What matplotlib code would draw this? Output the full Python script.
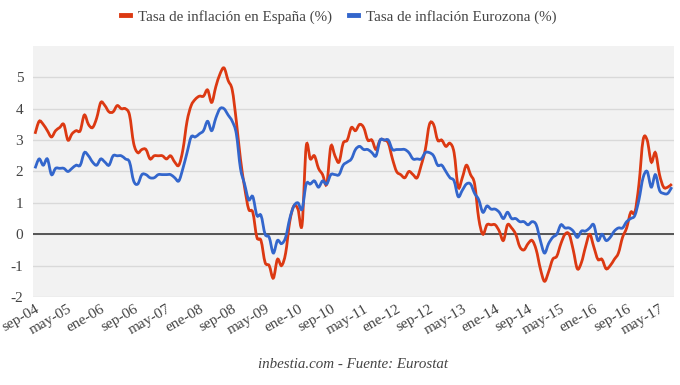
import matplotlib
matplotlib.use("Agg")
import matplotlib.pyplot as plt
import matplotlib.transforms as mtransforms
from matplotlib.path import Path
from matplotlib.patches import PathPatch
from matplotlib.lines import Line2D
import numpy as np

plt.rcParams['font.family'] = ['Liberation Serif', 'DejaVu Serif']
plt.rcParams['axes.unicode_minus'] = False

# etiquetas del eje x (una cada 8 meses, desde sep-04)
tick_labels = ["sep-04", "may-05", "ene-06", "sep-06", "may-07", "ene-08", "sep-08",
               "may-09", "ene-10", "sep-10", "may-11", "ene-12", "sep-12", "may-13",
               "ene-14", "sep-14", "may-15", "ene-16", "sep-16", "may-17"]

# tasa de inflacion mensual, sep-04 .. ago-17
espana = [3.2, 3.6, 3.5, 3.3,
          3.1, 3.3, 3.4, 3.5, 3.0, 3.2, 3.3, 3.3, 3.8, 3.5, 3.4, 3.7,
          4.2, 4.1, 3.9, 3.9, 4.1, 4.0, 4.0, 3.8, 2.9, 2.6, 2.7, 2.7,
          2.4, 2.5, 2.5, 2.5, 2.4, 2.5, 2.3, 2.2, 2.7, 3.6, 4.1, 4.3,
          4.4, 4.4, 4.6, 4.2, 4.7, 5.1, 5.3, 4.9, 4.6, 3.6, 2.4, 1.5,
          0.8, 0.7, -0.1, -0.2, -0.9, -1.0, -1.4, -0.8, -1.0, -0.6, 0.4, 0.9,
          0.8, 0.3, 2.8, 2.4, 2.5, 2.1, 1.9, 1.6, 2.8, 2.5, 2.3, 2.9,
          3.0, 3.4, 3.3, 3.5, 3.4, 3.0, 3.0, 2.7, 3.0, 3.0, 2.9, 2.4,
          2.0, 1.9, 1.8, 2.0, 1.9, 1.8, 2.2, 2.7, 3.5, 3.5, 3.0, 3.0,
          2.8, 2.9, 2.6, 1.5, 1.8, 2.2, 1.9, 1.6, 0.5, 0.0, 0.3, 0.3,
          0.3, 0.1, -0.2, 0.3, 0.2, 0.0, -0.4, -0.5, -0.3, -0.2, -0.5, -1.1,
          -1.5, -1.2, -0.8, -0.7, -0.3, 0.0, 0.0, -0.5, -1.1, -0.9, -0.4, 0.0,
          -0.4, -0.8, -0.8, -1.1, -1.0, -0.8, -0.6, -0.1, 0.2, 0.7, 0.7, 1.6,
          3.0, 3.0, 2.3, 2.6, 1.9, 1.5, 1.5, 1.6]

eurozona = [2.1, 2.4, 2.2, 2.4,
            1.9, 2.1, 2.1, 2.1, 2.0, 2.1, 2.2, 2.2, 2.6, 2.5, 2.3, 2.2,
            2.4, 2.3, 2.2, 2.5, 2.5, 2.5, 2.4, 2.3, 1.7, 1.6, 1.9, 1.9,
            1.8, 1.8, 1.9, 1.9, 1.9, 1.9, 1.8, 1.7, 2.1, 2.6, 3.1, 3.1,
            3.2, 3.3, 3.6, 3.3, 3.7, 4.0, 4.0, 3.8, 3.6, 3.2, 2.1, 1.6,
            1.1, 1.2, 0.6, 0.6, 0.0, -0.1, -0.6, -0.2, -0.3, -0.1, 0.5, 0.9,
            1.0, 0.8, 1.6, 1.6, 1.7, 1.5, 1.7, 1.6, 1.9, 1.9, 1.9, 2.2,
            2.3, 2.4, 2.7, 2.8, 2.7, 2.7, 2.6, 2.5, 3.0, 3.0, 3.0, 2.7,
            2.7, 2.7, 2.7, 2.6, 2.4, 2.4, 2.4, 2.6, 2.6, 2.5, 2.2, 2.2,
            2.0, 1.8, 1.7, 1.2, 1.4, 1.6, 1.6, 1.3, 1.1, 0.7, 0.9, 0.8,
            0.8, 0.7, 0.5, 0.7, 0.5, 0.5, 0.4, 0.4, 0.3, 0.4, 0.3, -0.2,
            -0.6, -0.3, -0.1, 0.0, 0.3, 0.2, 0.2, 0.1, -0.1, 0.1, 0.1, 0.2,
            0.3, -0.2, 0.0, -0.2, -0.1, 0.1, 0.2, 0.2, 0.4, 0.5, 0.6, 1.1,
            1.8, 2.0, 1.5, 1.9, 1.4, 1.3, 1.3, 1.5]

rojo = "#dc3912"
azul = "#3366cc"


def curva(y):
    # linea suavizada (catmull-rom como curvas de bezier) sobre los datos
    p = np.column_stack([np.arange(len(y)), np.asarray(y, float)])
    ext = np.vstack([p[0], p, p[-1]])
    verts = [p[0]]
    codes = [Path.MOVETO]
    for i in range(len(p) - 1):
        p0, p1, p2, p3 = ext[i], ext[i + 1], ext[i + 2], ext[i + 3]
        verts += [p1 + (p2 - p0) / 6, p2 - (p3 - p1) / 6, p2]
        codes += [Path.CURVE4] * 3
    return Path(verts, codes)


fig = plt.figure(figsize=(6.8, 3.85), dpi=100)
ax = fig.add_axes([0.0485, 0.2286, 0.9425, 0.652])
ax.set_facecolor("#f2f2f2")

ax.add_patch(PathPatch(curva(espana), fill=False, edgecolor=rojo, lw=2, zorder=3))
ax.add_patch(PathPatch(curva(eurozona), fill=False, edgecolor=azul, lw=2, zorder=4))

ax.set_xlim(-0.5, len(espana) - 0.5)
ax.set_ylim(-2, 6)
ax.set_yticks(range(-2, 6))
ax.grid(axis="y", color="#d9d9d9", lw=1)
ax.axhline(0, color="#555555", lw=1.4, zorder=2)
ax.set_axisbelow(True)
for s in ax.spines.values():
    s.set_visible(False)

ax.set_xticks(range(0, len(espana), 8))
ax.set_xticklabels(tick_labels, rotation=30, ha="right", va="top",
                   rotation_mode="anchor")
off = mtransforms.ScaledTranslation(9 / 100, 0, fig.dpi_scale_trans)
for lab in ax.get_xticklabels():
    lab.set_transform(lab.get_transform() + off)
ax.tick_params(length=0, labelsize=11, labelcolor="#444444")
ax.tick_params(axis="x", pad=4)
ax.tick_params(axis="y", pad=7)

handles = [Line2D([], [], color=rojo, lw=3.5), Line2D([], [], color=azul, lw=3.5)]
fig.legend(handles, ["Tasa de inflación en España (%)", "Tasa de inflación Eurozona (%)"],
           loc="upper center", bbox_to_anchor=(0.498, 1.01), ncol=2, frameon=False,
           handlelength=0.6, handletextpad=0.55, columnspacing=1.1,
           fontsize=10.8, labelcolor="#444444")

fig.text(0.519, 0.052, "inbestia.com - Fuente: Eurostat", style="italic",
         ha="center", va="center", fontsize=10.8, color="#444444")

fig.savefig("out.png", dpi=100, facecolor="white")
